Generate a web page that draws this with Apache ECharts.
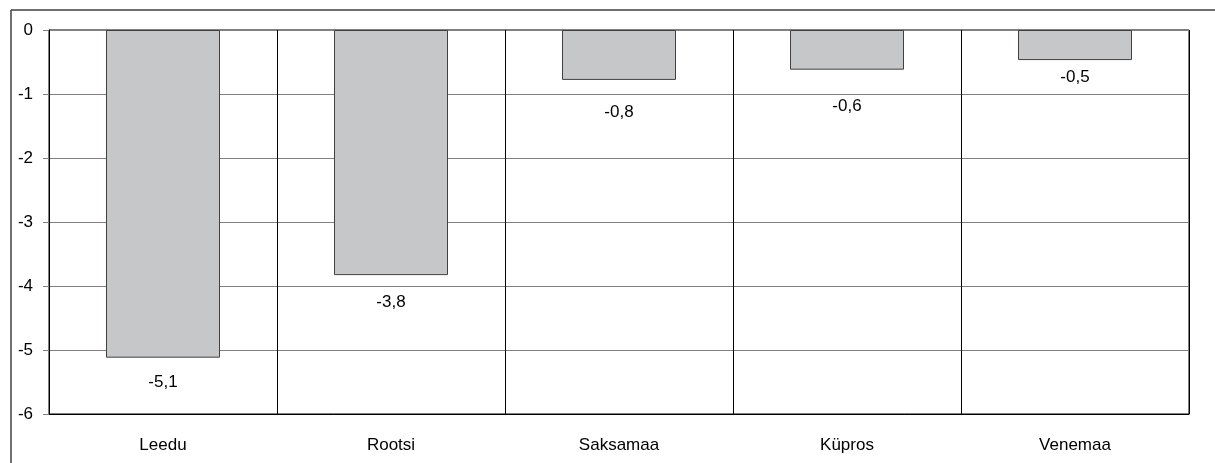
<!DOCTYPE html>
<html><head><meta charset="utf-8">
<script src="https://cdn.jsdelivr.net/npm/echarts@6/dist/echarts.min.js"></script>
<style>html,body{margin:0;padding:0;background:#fff}#c{width:1215px;height:463px}</style>
</head><body><div id="c"></div>
<script>
const categories = ['Leedu', 'Rootsi', 'Saksamaa', 'Küpros', 'Venemaa'];
const values = [-5.12, -3.83, -0.78, -0.62, -0.47];
const yTicks = [0, -1, -2, -3, -4, -5, -6];
// label gaps below each bar end (styling only)
const labelGap = [16, 19, 24, 28, 9];

const chart = echarts.init(document.getElementById('c'), null, {renderer: 'canvas'});
chart.setOption({
  animation: false,
  backgroundColor: '#fff',
  textStyle: {fontFamily: 'Liberation Sans, Arial, sans-serif'},
  graphic: [
    {type: 'line', shape: {x1: 11, y1: 10, x2: 1215, y2: 10}, style: {stroke: '#404040', lineWidth: 1.5}},
    {type: 'line', shape: {x1: 11, y1: 10, x2: 11, y2: 463}, style: {stroke: '#404040', lineWidth: 1.5}}
  ],
  grid: {left: 49, right: 26, top: 30, bottom: 49, show: true, borderColor: '#000', borderWidth: 1},
  xAxis: {
    type: 'category', data: categories, position: 'bottom',
    axisLine: {show: true, onZero: false, lineStyle: {color: '#000'}},
    axisTick: {show: false},
    splitLine: {show: true, lineStyle: {color: '#000', width: 1}},
    axisLabel: {color: '#000', fontSize: 17, margin: 23}
  },
  yAxis: {
    type: 'value', min: -6, max: 0, interval: 1,
    axisLine: {show: true, lineStyle: {color: '#000'}},
    axisTick: {show: true, length: 6, lineStyle: {color: '#808080'}},
    splitLine: {show: true, lineStyle: {color: '#808080', width: 1}},
    axisLabel: {color: '#000', fontSize: 17, margin: 16,
      formatter: v => yTicks.includes(v) ? String(v) : ''}
  },
  series: [{
    type: 'bar', barWidth: '50%',
    data: values.map((v, i) => ({value: v, label: {distance: labelGap[i]}})),
    itemStyle: {color: '#c6c7c8', borderColor: '#404040', borderWidth: 1},
    label: {show: true, position: 'bottom', distance: 15, color: '#000', fontSize: 17,
      formatter: p => p.value.toFixed(1).replace('.', ',')}
  }]
});
</script></body></html>
